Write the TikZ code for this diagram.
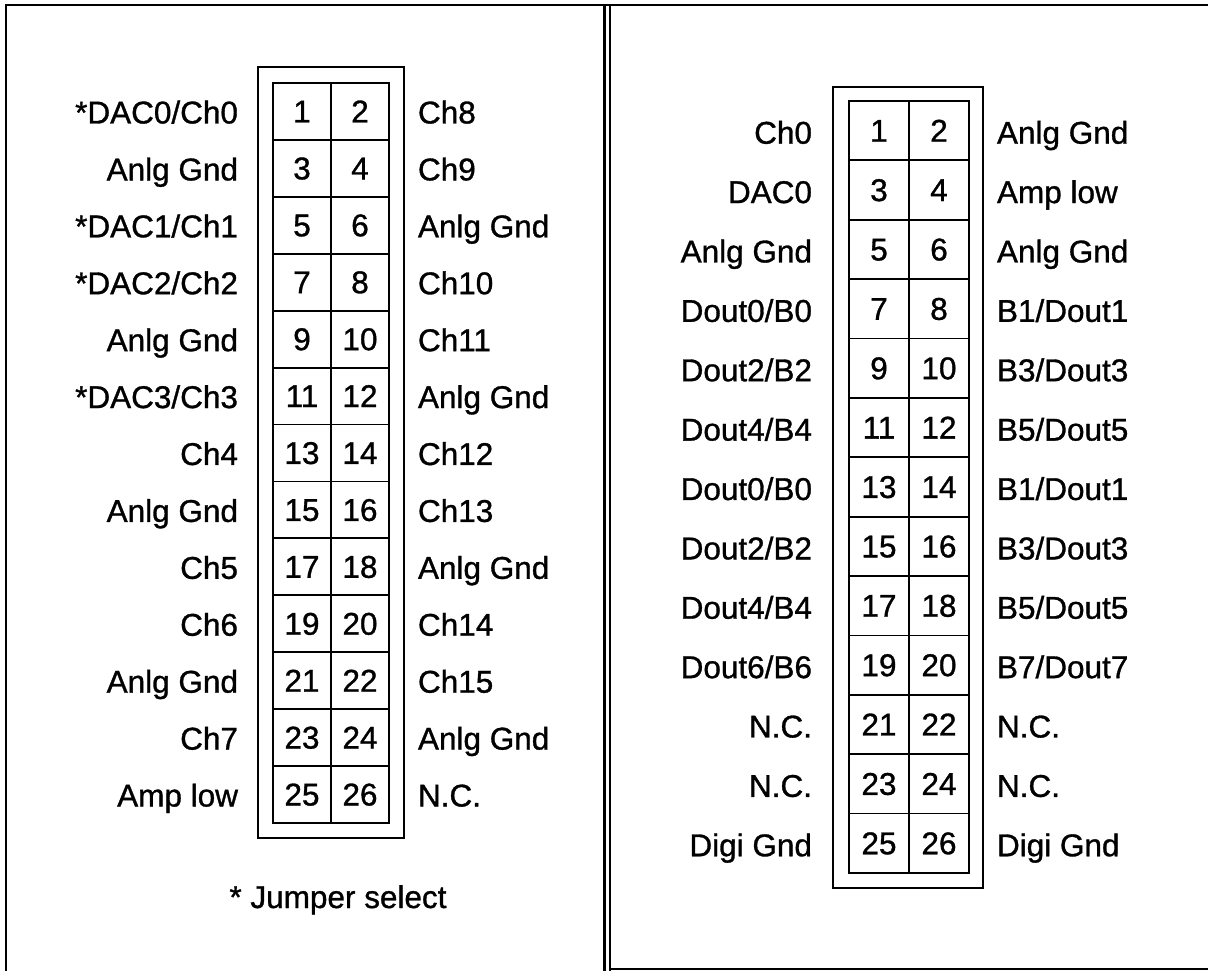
\documentclass[tikz,border=0pt]{standalone}
\usepackage{fontspec}
\setmainfont{Liberation Sans}[FakeBold=1.0]
\begin{document}
\begin{tikzpicture}[x=1pt,y=-1pt,
  txt/.style={font=\fontsize{31.5}{36}\selectfont, inner sep=0pt, outer sep=0pt, text height=22pt, text depth=0pt},
  cellL/.style={txt, draw, line width=1.8pt, minimum width=58pt, minimum height=56.92pt},
  cellR/.style={txt, draw, line width=1.8pt, minimum width=60pt, minimum height=59.38pt},
  housing/.style={draw, line width=1.8pt, inner sep=0pt, outer sep=0pt},
  frame/.style={line width=2.2pt}]
\useasboundingbox (0,0) rectangle (1208,971);
% frame
\draw[frame] (6,971) -- (6,5) -- (1208,5);
\draw[line width=3pt] (604,5) -- (604,971);
\draw[line width=2pt] (610,5) -- (610,971);
\draw[frame] (610,969) -- (1208,969);
% housings
\node[housing, minimum width=146pt, minimum height=771pt] (LH) at (331,452.5) {};
\node[housing, minimum width=150pt, minimum height=801pt] (RH) at (908,487.5) {};
% left connector cells
\foreach \i in {0,...,12}{
  \pgfmathsetmacro\yc{83+56.92*(\i+0.5)}
  \pgfmathtruncatemacro\a{2*\i+1}
  \pgfmathtruncatemacro\b{2*\i+2}
  \node[cellL] (A\a) at (302,\yc) {\a};
  \node[cellL] (A\b) at (360,\yc) {\b};
}
% right connector cells
\foreach \i in {0,...,12}{
  \pgfmathsetmacro\yc{101+59.38*(\i+0.5)}
  \pgfmathtruncatemacro\a{2*\i+1}
  \pgfmathtruncatemacro\b{2*\i+2}
  \node[cellR] (B\a) at (879,\yc) {\a};
  \node[cellR] (B\b) at (939,\yc) {\b};
}
% left panel labels
\foreach \t [count=\i from 0] in {*DAC0/Ch0,Anlg Gnd,*DAC1/Ch1,*DAC2/Ch2,Anlg Gnd,*DAC3/Ch3,Ch4,Anlg Gnd,Ch5,Ch6,Anlg Gnd,Ch7,Amp low}{
  \pgfmathsetmacro\yc{84+56.92*(\i+0.5)}
  \node[txt, anchor=east] (LL\i) at (238,\yc) {\t};
}
\foreach \t [count=\i from 0] in {Ch8,Ch9,Anlg Gnd,Ch10,Ch11,Anlg Gnd,Ch12,Ch13,Anlg Gnd,Ch14,Ch15,Anlg Gnd,N.C.}{
  \pgfmathsetmacro\yc{84+56.92*(\i+0.5)}
  \node[txt, anchor=west] (LR\i) at (418,\yc) {\t};
}
% right panel labels
\foreach \t [count=\i from 0] in {Ch0,DAC0,Anlg Gnd,Dout0/B0,Dout2/B2,Dout4/B4,Dout0/B0,Dout2/B2,Dout4/B4,Dout6/B6,N.C.,N.C.,Digi Gnd}{
  \pgfmathsetmacro\yc{103+59.38*(\i+0.5)}
  \node[txt, anchor=east] (RL\i) at (812,\yc) {\t};
}
\foreach \t [count=\i from 0] in {Anlg Gnd,Amp low,Anlg Gnd,B1/Dout1,B3/Dout3,B5/Dout5,B1/Dout1,B3/Dout3,B5/Dout5,B7/Dout7,N.C.,N.C.,Digi Gnd}{
  \pgfmathsetmacro\yc{103+59.38*(\i+0.5)}
  \node[txt, anchor=west] (RR\i) at (997,\yc) {\t};
}
\node[txt] (note) at (338,897) {* Jumper select};
\end{tikzpicture}
\end{document}
